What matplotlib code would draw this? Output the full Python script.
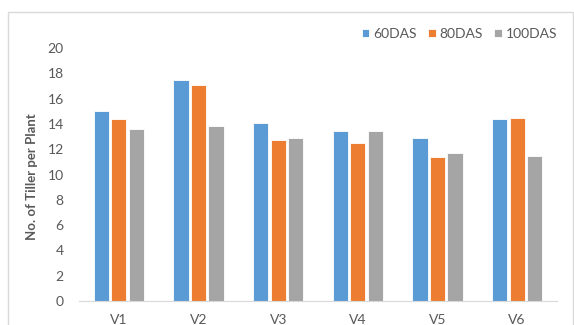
import numpy as np
import matplotlib.pyplot as plt
from matplotlib.patches import Rectangle

plt.rcParams['font.family'] = ['Lato', 'DejaVu Sans']

varieties = ['V1', 'V2', 'V3', 'V4', 'V5', 'V6']
das60 = [15.0, 17.5, 14.1, 13.4, 12.9, 14.35]
das80 = [14.4, 17.1, 12.7, 12.5, 11.4, 14.45]
das100 = [13.6, 13.8, 12.85, 13.4, 11.7, 11.45]
series_names = ['60DAS', '80DAS', '100DAS']
colors = ['#5B9BD5', '#ED7D31', '#A5A5A5']

fig = plt.figure(figsize=(5.74, 3.25), dpi=100)
ax = fig.add_axes([79 / 574, 1 - 301 / 325, (557 - 79) / 574, (301 - 48) / 325])

# chart area border
fig.patches.append(Rectangle((8 / 574, -0.02), 565 / 574, 1 - 12 / 325 + 0.02,
                             transform=fig.transFigure, fill=False,
                             edgecolor='#d9d9d9', linewidth=1))

x = np.arange(len(varieties))
step = 0.22
width = 0.19
for i, (vals, name) in enumerate(zip([das60, das80, das100], series_names)):
    ax.bar(x + (i - 1) * step, vals, width, color=colors[i], label=name,
           edgecolor='white', linewidth=0.6)

ax.set_xlim(-0.5, 5.5)
ax.set_ylim(0, 20)
ax.set_yticks(range(0, 21, 2))
ax.set_xticks(x)
ax.set_xticklabels(varieties)
ax.tick_params(axis='both', length=0, colors='#595959', labelsize=10)
ax.tick_params(axis='x', pad=9)
ax.tick_params(axis='y', pad=11)

for s in ['top', 'right', 'left']:
    ax.spines[s].set_visible(False)
ax.spines['bottom'].set_color('#d9d9d9')

ax.set_ylabel('No. of Tiller per Plant', fontsize=9.5, fontweight='bold',
              color='#595959')
ax.yaxis.set_label_coords(-0.086, 0.49)

ax.legend(loc='center right', bbox_to_anchor=(1.013, 1.055), ncol=3, frameon=False,
          fontsize=10, labelcolor='#595959', handlelength=0.55, handleheight=0.55,
          handletextpad=0.3, columnspacing=0.8, borderaxespad=0)

fig.savefig('out.png', dpi=100)
